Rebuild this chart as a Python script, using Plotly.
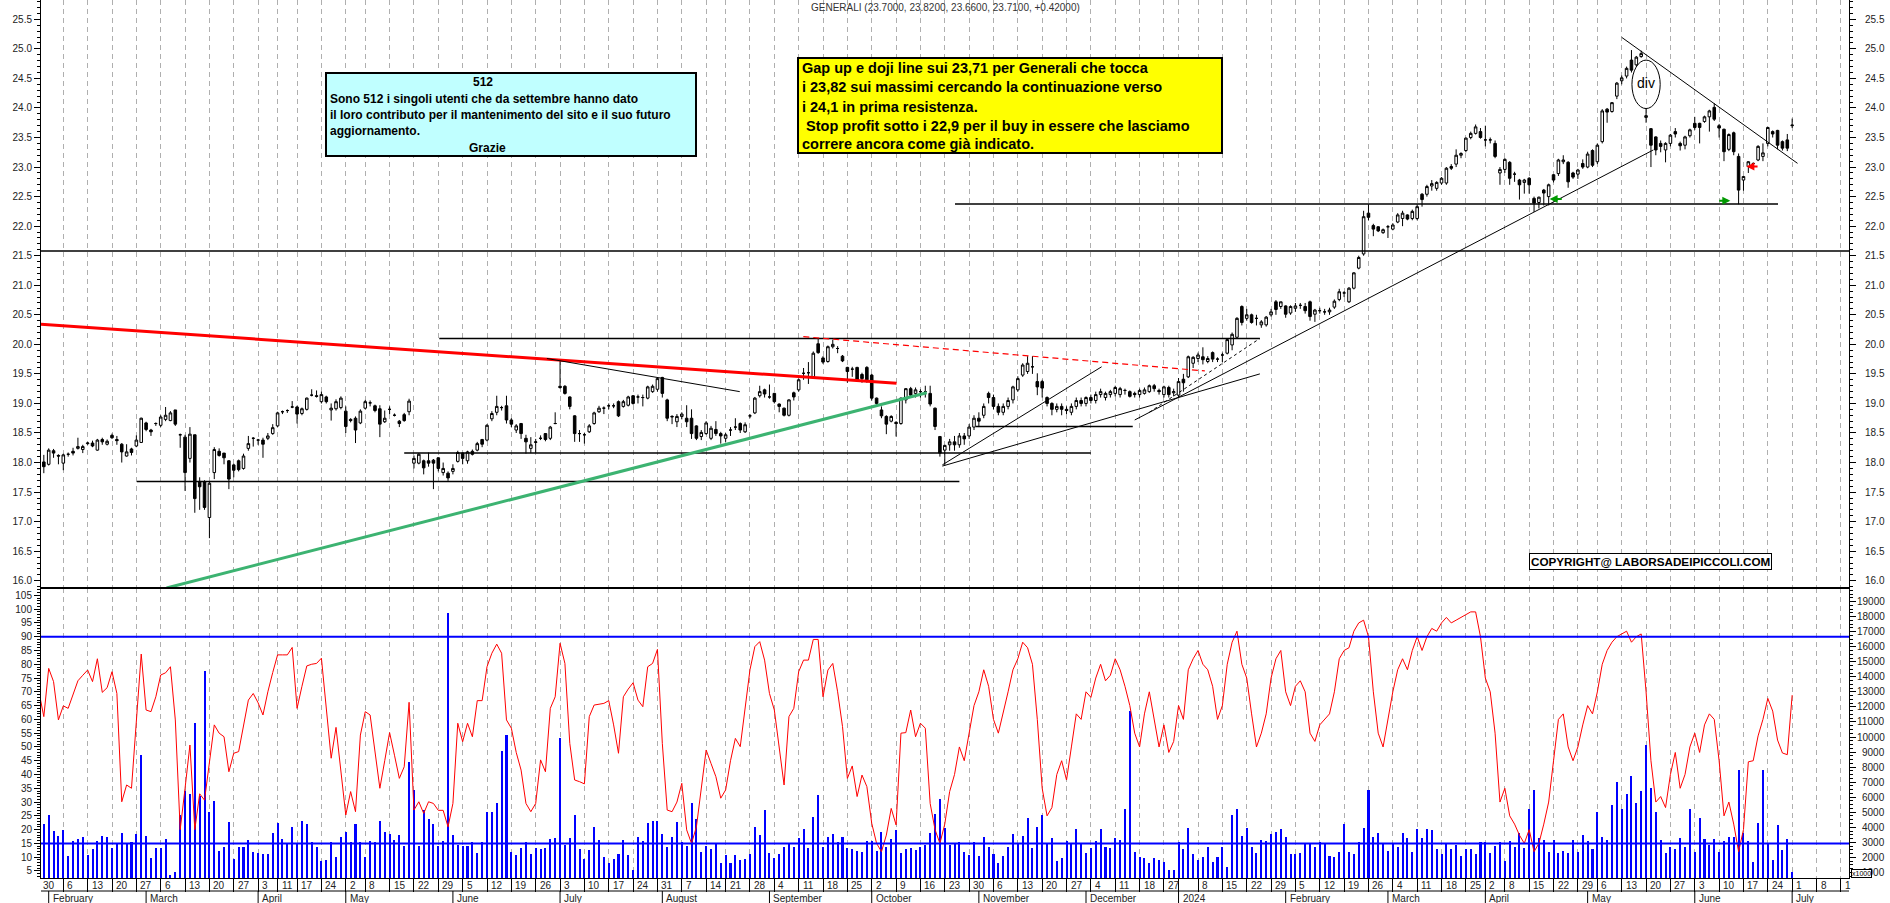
import pandas as pd
import plotly.graph_objects as go

# ---------------- calendar (Borsa Italiana trading days) ----------------
HOLIDAYS = ["2023-04-07", "2023-04-10", "2023-05-01", "2023-08-15", "2023-12-25",
            "2023-12-26", "2024-01-01", "2024-03-29", "2024-04-01", "2024-05-01"]
DAYS = [d for d in pd.bdate_range("2023-01-30", "2024-07-19")
        if d.strftime("%Y-%m-%d") not in HOLIDAYS]

# ---------------- price candles (open, high, low, close), from Jan 31 2023 ----------------
cand_q1_2023 = [
    (18.01, 18.13, 17.82, 17.93), (17.97, 18.24, 17.95, 18.21), (18.20, 18.23, 18.08, 18.16),
    (18.12, 18.14, 17.97, 18.11), (17.99, 18.15, 17.87, 18.13), (18.14, 18.17, 18.10, 18.14),
    (18.19, 18.25, 18.12, 18.16), (18.24, 18.42, 18.22, 18.27), (18.22, 18.30, 18.16, 18.27),
    (18.32, 18.35, 18.30, 18.33), (18.33, 18.37, 18.26, 18.28), (18.21, 18.40, 18.20, 18.38),
    (18.39, 18.42, 18.30, 18.35), (18.31, 18.39, 18.29, 18.36), (18.46, 18.49, 18.40, 18.42),
    (18.39, 18.45, 18.30, 18.37), (18.31, 18.33, 18.00, 18.18), (18.11, 18.31, 18.10, 18.18),
    (18.23, 18.25, 18.12, 18.17), (18.28, 18.46, 18.26, 18.38), (18.34, 18.76, 18.33, 18.75),
    (18.67, 18.69, 18.53, 18.56), (18.55, 18.57, 18.45, 18.52), (18.66, 18.68, 18.62, 18.66),
    (18.63, 18.80, 18.60, 18.77), (18.73, 18.94, 18.70, 18.80), (18.71, 18.87, 18.70, 18.84),
    (18.89, 18.89, 18.62, 18.65), (18.47, 18.49, 18.25, 18.47), (18.43, 18.47, 17.52, 17.83),
    (18.07, 18.60, 18.00, 18.48), (18.47, 18.47, 17.15, 17.39), (17.68, 17.75, 17.20, 17.59),
    (17.67, 17.70, 17.20, 17.24), (17.07, 17.68, 16.72, 17.65),
]
cand_q2_2023 = [
    (17.83, 18.26, 17.72, 18.22), (18.19, 18.24, 18.10, 18.12), (18.16, 18.16, 17.97, 18.08),
    (18.03, 18.04, 17.55, 17.72), (17.96, 17.98, 17.75, 17.87), (18.03, 18.05, 17.85, 17.88),
    (17.90, 18.15, 17.88, 18.11), (18.24, 18.45, 18.20, 18.32), (18.41, 18.43, 18.27, 18.41),
    (18.38, 18.40, 18.30, 18.38), (18.38, 18.42, 18.08, 18.31), (18.41, 18.50, 18.38, 18.45),
    (18.49, 18.65, 18.47, 18.59), (18.62, 18.86, 18.60, 18.84), (18.86, 18.88, 18.82, 18.86),
    (18.88, 18.90, 18.84, 18.88), (18.94, 19.04, 18.92, 18.94), (18.94, 18.96, 18.66, 18.82),
    (18.83, 18.93, 18.80, 18.91), (18.90, 19.10, 18.88, 19.09), (19.14, 19.24, 19.12, 19.14),
    (19.13, 19.22, 19.10, 19.12), (19.03, 19.20, 19.00, 19.15), (19.11, 19.13, 19.00, 19.03),
    (18.89, 19.00, 18.71, 18.92), (18.91, 19.07, 18.88, 19.03), (18.93, 19.12, 18.90, 19.09),
    (18.87, 18.95, 18.50, 18.61), (18.73, 18.75, 18.68, 18.71), (18.75, 18.78, 18.33, 18.55),
    (18.67, 18.90, 18.65, 18.87), (18.92, 19.06, 18.90, 19.03), (19.01, 19.05, 18.95, 19.01),
    (18.96, 18.98, 18.85, 18.88), (18.91, 18.97, 18.43, 18.65), (18.69, 18.88, 18.67, 18.75),
    (18.90, 18.95, 18.82, 18.90), (18.80, 18.83, 18.78, 18.80), (18.70, 18.72, 18.60, 18.66),
    (18.81, 18.84, 18.69, 18.71), (18.86, 19.08, 18.80, 19.04),
]
cand_jun_2023 = [
    (17.99, 18.12, 17.90, 18.07), (17.99, 18.16, 17.97, 18.14), (18.03, 18.05, 17.80, 17.91),
    (18.03, 18.17, 17.93, 17.99), (18.04, 18.06, 17.55, 17.99), (18.08, 18.09, 17.85, 17.90),
    (17.83, 18.00, 17.78, 17.90), (17.82, 17.85, 17.69, 17.74), (17.85, 17.97, 17.80, 17.90),
    (18.02, 18.20, 18.00, 18.17), (18.16, 18.17, 17.97, 18.07), (18.03, 18.20, 17.98, 18.18),
    (18.19, 18.22, 18.12, 18.14), (18.21, 18.35, 18.19, 18.32), (18.39, 18.40, 18.26, 18.31),
    (18.38, 18.65, 18.36, 18.63), (18.74, 18.87, 18.70, 18.83), (18.85, 19.13, 18.80, 18.95),
    (18.93, 18.96, 18.88, 18.93), (18.96, 19.13, 18.66, 18.72), (18.72, 18.75, 18.60, 18.65),
    (18.55, 18.65, 18.50, 18.62), (18.66, 18.67, 18.40, 18.49), (18.41, 18.47, 18.15, 18.35),
    (18.24, 18.43, 18.16, 18.30), (18.34, 18.40, 18.16, 18.35), (18.41, 18.46, 18.38, 18.41),
    (18.49, 18.50, 18.36, 18.39), (18.41, 18.62, 18.38, 18.60), (18.66, 18.85, 18.65, 18.66),
]
cand_q3_2023 = [
    (19.29, 19.73, 19.25, 19.27), (19.29, 19.31, 19.15, 19.17), (19.11, 19.12, 18.90, 18.95),
    (18.79, 18.80, 18.35, 18.49), (18.49, 18.55, 18.35, 18.49), (18.47, 18.50, 18.32, 18.47),
    (18.52, 18.65, 18.50, 18.62), (18.66, 18.86, 18.64, 18.84), (18.86, 18.96, 18.84, 18.92),
    (18.92, 18.95, 18.82, 18.92), (18.96, 19.00, 18.90, 18.96), (18.96, 19.00, 18.92, 18.96),
    (19.03, 19.05, 18.77, 18.79), (18.95, 19.06, 18.93, 19.03), (18.97, 19.13, 18.95, 19.11),
    (19.13, 19.14, 18.98, 19.00), (19.11, 19.15, 19.00, 19.11), (19.10, 19.15, 18.95, 19.10),
    (19.09, 19.30, 19.07, 19.28), (19.20, 19.32, 19.18, 19.29), (19.24, 19.44, 19.20, 19.42),
    (19.44, 19.45, 19.10, 19.17), (19.06, 19.08, 18.70, 18.75), (18.77, 18.80, 18.65, 18.78),
    (18.69, 18.82, 18.60, 18.78), (18.78, 18.85, 18.73, 18.82), (18.75, 18.97, 18.60, 18.69),
    (18.75, 18.90, 18.40, 18.49), (18.62, 18.63, 18.38, 18.41), (18.44, 18.55, 18.38, 18.51),
    (18.49, 18.70, 18.47, 18.67), (18.41, 18.62, 18.38, 18.58), (18.56, 18.70, 18.45, 18.49),
    (18.49, 18.52, 18.32, 18.45), (18.41, 18.50, 18.35, 18.47), (18.55, 18.60, 18.45, 18.55),
    (18.60, 18.75, 18.55, 18.60), (18.66, 18.68, 18.50, 18.55), (18.52, 18.68, 18.50, 18.64),
    (18.79, 18.82, 18.75, 18.79), (18.84, 19.11, 18.82, 19.09), (19.13, 19.30, 19.10, 19.20),
    (19.23, 19.25, 19.10, 19.16), (19.11, 19.32, 19.08, 19.11),
]
cand_sep_oct_2023 = [
    (19.17, 19.18, 19.00, 19.03), (18.99, 19.00, 18.85, 18.95), (18.92, 18.93, 18.78, 18.80),
    (18.80, 19.07, 18.78, 19.06), (19.18, 19.20, 19.05, 19.11), (19.23, 19.42, 19.20, 19.40),
    (19.51, 19.60, 19.40, 19.51), (19.52, 19.70, 19.33, 19.52), (19.45, 19.88, 19.43, 19.85),
    (20.01, 20.10, 19.84, 19.86), (19.77, 19.80, 19.67, 19.70), (19.71, 19.98, 19.69, 19.96),
    (19.96, 20.08, 19.93, 20.00), (19.93, 19.97, 19.85, 19.93), (19.80, 19.82, 19.70, 19.72),
    (19.61, 19.62, 19.35, 19.54), (19.58, 19.62, 19.45, 19.58), (19.61, 19.62, 19.38, 19.40),
    (19.49, 19.52, 19.35, 19.42), (19.61, 19.63, 19.35, 19.40), (19.48, 19.50, 19.05, 19.09),
    (19.09, 19.10, 18.94, 19.00), (18.89, 18.95, 18.75, 18.79), (18.78, 18.80, 18.48, 18.65),
    (18.70, 18.80, 18.68, 18.78), (18.68, 18.70, 18.44, 18.66), (18.66, 19.10, 18.64, 19.09),
    (19.06, 19.26, 19.00, 19.25), (19.25, 19.28, 19.10, 19.14), (19.17, 19.27, 19.10, 19.23),
    (19.20, 19.24, 19.10, 19.20), (19.20, 19.30, 19.10, 19.20), (19.17, 19.30, 18.95, 18.99),
    (18.92, 18.93, 18.55, 18.61), (18.44, 18.45, 18.10, 18.16), (18.21, 18.30, 17.95, 18.29),
    (18.30, 18.40, 18.20, 18.35),
]
cand_q4_2023 = [
    (18.35, 18.45, 18.20, 18.30), (18.30, 18.50, 18.25, 18.45), (18.45, 18.50, 18.30, 18.40),
    (18.45, 18.65, 18.40, 18.60), (18.60, 18.80, 18.55, 18.75), (18.75, 18.85, 18.60, 18.70),
    (18.80, 19.00, 18.75, 18.95), (19.17, 19.20, 19.00, 19.10), (19.10, 19.15, 18.90, 18.95),
    (18.95, 19.00, 18.80, 18.85), (18.85, 19.00, 18.80, 18.95), (18.95, 19.10, 18.90, 19.05),
    (19.06, 19.30, 19.00, 19.28), (19.23, 19.46, 19.20, 19.42), (19.48, 19.68, 19.45, 19.65),
    (19.54, 19.80, 19.50, 19.68), (19.62, 19.80, 19.50, 19.62), (19.37, 19.51, 19.14, 19.28),
    (19.37, 19.40, 19.10, 19.26), (19.10, 19.12, 18.95, 19.00), (19.00, 19.02, 18.80, 18.90),
    (18.90, 19.00, 18.85, 18.95), (18.95, 19.00, 18.80, 18.90), (18.90, 18.95, 18.82, 18.88),
    (18.85, 19.00, 18.80, 18.95), (18.95, 19.10, 18.90, 19.05), (19.05, 19.10, 18.95, 19.00),
    (19.00, 19.12, 18.95, 19.10), (19.10, 19.15, 19.00, 19.05), (19.05, 19.20, 19.00, 19.15),
    (19.15, 19.25, 19.10, 19.20), (19.10, 19.20, 19.05, 19.17), (19.15, 19.23, 19.10, 19.20),
    (19.17, 19.30, 19.12, 19.27), (19.15, 19.28, 19.10, 19.25), (19.22, 19.25, 19.15, 19.22),
    (19.20, 19.22, 19.10, 19.12), (19.17, 19.20, 19.10, 19.15), (19.15, 19.25, 19.10, 19.22),
    (19.17, 19.27, 19.15, 19.23), (19.20, 19.32, 19.18, 19.30), (19.30, 19.33, 19.20, 19.25),
    (19.22, 19.25, 19.15, 19.20), (19.15, 19.30, 19.10, 19.28), (19.27, 19.30, 19.10, 19.15),
    (19.18, 19.25, 19.12, 19.20),
]
cand_jan_feb_2024 = [
    (19.14, 19.43, 19.10, 19.37), (19.41, 19.50, 19.20, 19.35), (19.45, 19.81, 19.43, 19.79),
    (19.68, 19.80, 19.60, 19.78), (19.76, 19.86, 19.70, 19.82), (19.79, 19.95, 19.66, 19.74),
    (19.71, 19.80, 19.68, 19.76), (19.86, 19.88, 19.70, 19.75), (19.75, 19.78, 19.70, 19.75),
    (19.82, 19.86, 19.70, 19.82), (19.85, 20.10, 19.83, 20.08), (19.99, 20.20, 19.90, 20.17),
    (20.12, 20.46, 20.10, 20.44), (20.64, 20.66, 20.32, 20.37), (20.44, 20.60, 20.40, 20.50),
    (20.50, 20.52, 20.35, 20.37), (20.44, 20.50, 20.32, 20.44), (20.33, 20.41, 20.28, 20.38),
    (20.33, 20.48, 20.30, 20.46), (20.50, 20.60, 20.47, 20.55), (20.72, 20.75, 20.50, 20.59),
    (20.64, 20.72, 20.60, 20.72), (20.65, 20.66, 20.45, 20.51), (20.53, 20.66, 20.50, 20.64),
    (20.61, 20.70, 20.55, 20.65), (20.66, 20.70, 20.60, 20.66), (20.64, 20.70, 20.52, 20.57),
    (20.72, 20.74, 20.40, 20.47), (20.51, 20.60, 20.38, 20.58), (20.57, 20.62, 20.52, 20.57),
    (20.55, 20.60, 20.50, 20.55), (20.55, 20.62, 20.50, 20.58), (20.63, 20.76, 20.60, 20.73),
    (20.76, 20.94, 20.73, 20.89), (20.87, 20.90, 20.80, 20.87), (20.72, 20.97, 20.70, 20.95),
    (20.95, 21.22, 20.93, 21.21), (21.29, 21.50, 21.27, 21.47), (21.53, 22.26, 21.50, 22.16),
    (22.22, 22.37, 22.10, 22.15), (22.01, 22.04, 21.83, 21.95), (21.99, 22.00, 21.90, 21.92),
    (21.89, 21.96, 21.87, 21.94), (21.99, 22.02, 21.80, 21.99), (21.95, 22.05, 21.93, 22.02),
    (22.07, 22.22, 22.05, 22.19),
]
cand_mar_may_2024 = [
    (22.13, 22.26, 22.00, 22.22), (22.19, 22.20, 22.10, 22.12), (22.13, 22.28, 22.10, 22.25),
    (22.13, 22.37, 22.10, 22.33), (22.54, 22.56, 22.33, 22.45), (22.54, 22.70, 22.50, 22.67),
    (22.68, 22.78, 22.60, 22.72), (22.64, 22.76, 22.60, 22.74), (22.73, 22.83, 22.70, 22.81),
    (22.73, 23.00, 22.70, 22.98), (23.01, 23.05, 22.95, 22.98), (23.05, 23.30, 23.00, 23.20),
    (23.20, 23.25, 23.15, 23.23), (23.28, 23.50, 23.25, 23.49), (23.50, 23.60, 23.47, 23.57),
    (23.57, 23.72, 23.55, 23.68), (23.60, 23.66, 23.48, 23.50), (23.46, 23.70, 23.35, 23.46),
    (23.46, 23.50, 23.40, 23.46), (23.40, 23.45, 23.15, 23.18), (22.90, 23.00, 22.70, 22.96),
    (22.96, 23.15, 22.90, 23.13), (23.08, 23.10, 22.70, 22.81), (22.88, 22.92, 22.75, 22.88),
    (22.78, 22.80, 22.45, 22.70), (22.74, 22.80, 22.55, 22.78), (22.81, 22.83, 22.55, 22.70),
    (22.47, 22.50, 22.24, 22.39), (22.40, 22.50, 22.30, 22.49), (22.61, 22.63, 22.35, 22.56),
    (22.50, 22.72, 22.35, 22.70), (22.87, 22.88, 22.74, 22.78), (22.89, 23.14, 22.85, 23.12),
    (23.09, 23.20, 23.05, 23.12), (23.08, 23.10, 22.65, 22.75), (22.90, 22.92, 22.80, 22.83),
    (22.88, 22.97, 22.80, 22.95), (23.06, 23.13, 22.97, 23.00), (23.00, 23.26, 22.98, 23.22),
    (23.28, 23.30, 23.00, 23.03), (23.09, 23.40, 23.05, 23.37),
]
cand_may_jul_2024 = [
    (23.43, 23.98, 23.40, 23.95), (23.98, 24.00, 23.75, 23.93), (23.94, 24.10, 23.92, 24.09),
    (24.20, 24.44, 24.15, 24.42), (24.46, 24.55, 24.40, 24.51), (24.54, 24.70, 24.50, 24.67),
    (24.81, 24.98, 24.60, 24.64), (24.73, 24.88, 24.70, 24.86), (24.87, 24.97, 24.85, 24.92),
    (23.84, 24.00, 23.75, 23.87), (23.65, 23.66, 23.00, 23.37), (23.51, 23.52, 23.20, 23.29),
    (23.40, 23.45, 23.25, 23.35), (23.29, 23.42, 23.08, 23.40), (23.40, 23.56, 23.35, 23.54),
    (23.60, 23.66, 23.50, 23.56), (23.40, 23.43, 23.28, 23.36), (23.37, 23.53, 23.30, 23.51),
    (23.53, 23.65, 23.50, 23.63), (23.74, 23.85, 23.63, 23.67), (23.74, 23.75, 23.40, 23.67),
    (23.77, 23.87, 23.75, 23.85), (23.85, 23.97, 23.60, 23.95), (24.01, 24.08, 23.78, 23.81),
    (23.70, 23.73, 23.50, 23.66), (23.64, 23.65, 23.10, 23.26), (23.30, 23.57, 23.27, 23.55),
    (23.58, 23.60, 23.20, 23.26), (23.18, 23.23, 22.37, 22.61), (22.78, 22.85, 22.60, 22.84),
    (23.01, 23.10, 22.90, 23.09), (23.06, 23.08, 23.00, 23.06), (23.12, 23.37, 23.10, 23.35),
    (23.18, 23.40, 23.10, 23.24), (23.40, 23.68, 23.35, 23.67), (23.60, 23.62, 23.50, 23.56),
    (23.62, 23.63, 23.30, 23.37), (23.43, 23.45, 23.28, 23.32), (23.46, 23.56, 23.27, 23.32),
    (23.70, 23.82, 23.66, 23.71),
]
CANDLE_FIRST_DAY = 1

# ---------------- oscillator (left lower axis), from Jan 30 2023 ----------------
osc_a = [70, 61, 78.5, 73.7, 59.8, 64.9, 64, 69, 74, 76, 77.9, 73.7, 82, 69.8, 71.5, 77.3, 69.4, 30.1, 36.2, 35,
         59.8, 83.7, 63.4, 62.8, 68.2, 76.1, 76.9, 79.1, 59.8, 20, 35, 50.7, 20, 33, 30.7, 45, 58, 55, 53.7, 41,
         47.7, 48.3, 58, 67, 69.4, 66, 61.6, 70, 77, 83.4]
osc_b = [83.4, 83.4, 86.1, 64, 72, 79.4, 80, 80.3, 82.2, 65, 45.9, 57.1, 40, 25.3, 33.8, 26.5, 54.3, 62.8, 61.6, 48,
         35, 45, 55.2, 47, 38.6, 42.8, 66.2, 27.1, 30.1, 25.9, 30.1, 29.5, 27, 27, 21, 29.5, 58.6, 51.9, 58.6, 53.7,
         66.8, 66.8, 79.1, 84, 87.3, 84, 59.8, 56.8, 48, 41.6]
osc_c = [29.5, 26.5, 29.5, 45.3, 41, 64, 68.2, 87.6, 80.3, 51.3, 38, 37.4, 36.6, 61, 65.2, 65.5, 65.8, 66.8, 58, 47.7,
         68.2, 71, 73.3, 67, 64.6, 79.1, 80.3, 85.4, 51.3, 27.1, 26.5, 30, 36.8, 19.9, 15, 21, 35, 48.9, 44, 39.2,
         31.4, 34.4, 45, 53.1, 50.1, 65, 78, 86.4, 88.2, 81.5]
osc_d = [69.4, 63.4, 50, 36.2, 61, 64, 77.3, 81.5, 81.5, 89, 89, 68.2, 77.9, 80.3, 70, 57.4, 38.6, 43.1, 32, 39.8,
         35.6, 22.3, 15, 12, 18, 27.7, 21.7, 55, 55.2, 63.4, 53.7, 58.6, 56.8, 29.5, 20, 15, 22, 33.8, 40, 50,
         45, 55, 65, 70, 78, 72, 60, 55, 62, 70]
osc_e = [78, 82, 88, 86, 80, 60, 35, 25, 28, 40, 45, 38, 50, 62, 60, 70, 68, 75, 80, 74,
         76, 82, 78, 72, 65, 55, 50, 62, 70, 60, 50, 58, 48, 52, 65, 60, 78, 82, 85, 80,
         78, 72, 60, 65, 80, 88, 92, 80, 75, 62]
osc_f = [50, 55, 62, 75, 82, 85, 70, 65, 72, 74, 70, 55, 52, 58, 60, 62, 70, 82, 85, 86,
         92, 95, 96, 90, 70, 55, 50, 60, 70, 78, 82, 78, 85, 90, 85, 90, 93, 92, 95, 97,
         95, 96, 97, 98, 99, 99, 90, 75, 70, 55]
osc_g = [30, 35, 25, 22, 18, 15, 20, 12, 15, 22, 30, 45, 60, 62, 50, 45, 50, 58, 65, 62,
         70, 80, 85, 88, 90, 91, 92, 88, 90, 91, 70, 45, 30, 32, 28, 40, 48, 35, 40, 50,
         55, 48, 58, 62, 60, 45, 25, 30, 22, 12, 20, 44.6, 45, 54, 60, 67.6, 63, 52.5, 47.8, 47.2,
         68.8]
OSC_FIRST_DAY = 0

# ---------------- volume (x1000 shares, right lower axis), from Jan 31 2023 ----------------
vol_a = [4210, 4815, 3770, 3440, 3825, 2083, 3110, 3220, 3367, 2157, 2560, 3110, 3440, 3330, 2597, 2927, 3587, 2927,
         3000, 3550, 8811, 3440, 1937, 2597, 2597, 3220, 819, 1000, 4815, 6409, 6208, 10919, 6080, 14383, 5035,
         5750, 2450, 2707, 4320, 1863, 2670, 2707, 3147, 2340, 2267, 2230, 2230, 3605, 4300, 3220]
vol_b = [2890, 4045, 2890, 4430, 4210, 3000, 2707, 1772, 1827, 3037, 1992, 3367, 3660, 3000, 4210, 3000, 1992, 3110,
         3037, 4393, 3715, 3550, 3147, 3477, 2762, 8371, 6483, 2762, 5126, 4521, 4210, 2762, 3110, 18232, 3477,
         2817, 2780, 2780, 3000, 2267, 3000, 5035, 5035, 5640, 9086, 10130, 2340, 2157, 2597, 3037]
vol_c = [2230, 2597, 2560, 2597, 3220, 3257, 9910, 2817, 3257, 4815, 2560, 1883, 2487, 3990, 3147, 1992, 1607, 1863,
         2230, 3147, 2157, 1167, 3330, 3110, 4265, 4430, 4393, 3532, 2707, 3330, 4380, 3037, 2762, 5640, 4521,
         2377, 2762, 2542, 2872, 1644, 2138, 1644, 2157, 1827, 1863, 2230, 4045, 3477, 5126, 2267]
vol_d = [1937, 2230, 2670, 2980, 2670, 3257, 3880, 2597, 4705, 6153, 2707, 3367, 3550, 3000, 3367, 2597, 2560, 2450,
         2377, 3110, 3110, 2450, 3715, 2707, 3220, 3825, 2267, 2560, 2597, 2487, 2707, 2817, 3605, 4888, 5860,
         3935, 2817, 2980, 3037, 2340, 2157, 3000, 2083, 3330, 2707, 2230, 1644, 2083, 2670, 3532]
vol_e = [2890, 3422, 4600, 2597, 4045, 4800, 2872, 3257, 1772, 1937, 3092, 2927, 3880, 2890, 2267, 2597, 3110, 3880,
         2707, 2597, 3257, 3147, 5200, 11700, 2377, 2047, 1937, 1607, 1937, 1827, 1717, 1167, 1167, 3037, 2560,
         3935, 2230, 1827, 1992, 2670, 1662, 1992, 2670, 1387, 4800, 5200, 3422, 3935, 2670, 2304]
vol_f = [3147, 3110, 3550, 3660, 3862, 3367, 2230, 2193, 2267, 2890, 2927, 2707, 3000, 2927, 2083, 2047, 2340, 4190,
         2377, 2193, 3037, 3972, 6500, 3367, 3605, 2980, 2413, 2890, 2707, 3605, 3257, 2340, 3862, 3257, 3880,
         3825, 2560, 2193, 2890, 2560, 2817, 2083, 2560, 2560, 2230, 3037, 3000, 2267, 2762, 3037]
vol_g = [1772, 3110, 2707, 3605, 2597, 5200, 6500, 3257, 3147, 2377, 3147, 2267, 2450, 2304, 3147, 2377, 3477, 3110,
         2560, 5000, 3367, 3147, 5500, 7000, 5200, 6200, 7400, 5600, 6400, 9500, 6600, 5000, 3147, 2267, 2670,
         2560, 3257, 2670, 5200, 2340, 4600, 3202, 2817, 3202, 2340, 3110, 3367, 3330, 7800, 3605, 3110, 1717,
         4265, 7803, 2980, 1827, 4155, 2487, 3220, 1039]
VOL_FIRST_DAY = 1

# ---------------- drawn studies (day index, price) ----------------
TRENDLINES = [  # x0, p0, x1, p1, color, width, dash
    (0.42, 21.58, 371.67, 21.58, "black", 1.5, "solid"),
    (188.1, 22.375, 357.1, 22.375, "black", 1.5, "solid"),
    (82.2, 20.10, 250.7, 20.10, "black", 1.5, "solid"),
    (75.0, 18.16, 216.0, 18.16, "black", 1.5, "solid"),
    (20.1, 17.68, 189.0, 17.68, "black", 1.5, "solid"),
    (192.4, 18.61, 224.6, 18.61, "black", 1.5, "solid"),
    (0.42, 20.34, 176.1, 19.34, "#FF0000", 3, "solid"),
    (156.95, 20.13, 239.4, 19.55, "#FF0000", 1.2, "6px,4px"),
    (26.2, 15.877, 182.3, 19.18, "#3CB371", 3, "solid"),
    (104.3, 19.76, 143.9, 19.20, "black", 1, "solid"),
    (225.0, 18.72, 331.5, 23.29, "black", 1, "solid"),
    (325.0, 25.195, 361.1, 23.063, "black", 1, "solid"),
    (228.0, 18.85, 250.7, 20.10, "black", 1, "dot"),
    (185.5, 17.94, 250.7, 19.50, "black", 1, "solid"),
    (185.5, 17.96, 218.2, 19.62, "black", 1, "solid"),
]
ARROWS = [  # head x, head p, tail x, tail p, color
    (310.2, 22.46, 313.0, 22.46, "#009900"),
    (347.3, 22.43, 344.7, 22.43, "#009900"),
    (350.6, 23.01, 353.2, 23.01, "#FF0000"),
]
DIV_MARK = dict(x0=327.1, x1=332.9, p0=23.99, p1=24.81, label="div")

PRICE_TICKS = [16.0 + 0.5 * k for k in range(20)]
VOL_TICKS = list(range(1000, 20000, 1000))
OSC_TICKS = list(range(5, 110, 5))

TITLE = "GENERALI (23.7000, 23.8200, 23.6600, 23.7100, +0.42000)"
CYAN_LINES = ["512", "Sono 512 i singoli utenti che da settembre hanno dato",
              "il loro contributo per il mantenimento del sito e il suo futuro",
              "aggiornamento.", "Grazie"]
YELLOW_LINES = ["Gap up e doji line sui 23,71 per Generali che tocca",
                "i 23,82 sui massimi cercando la continuazione verso",
                "i 24,1 in prima resistenza.",
                " Stop profit sotto i 22,9 per il buy in essere che lasciamo",
                "correre ancora come già indicato."]
COPYRIGHT = "COPYRIGHT@ LABORSADEIPICCOLI.COM"

# ---------------- build ----------------
W, H = 1890, 903
ML, MR, MT, MB = 41, 41, 0, 25
PW, PH = W - ML - MR, H - MT - MB
SPLIT = 1 - 588 / PH
X_RANGE = [0.42, 371.67]


def px2x(px):
    return (px - ML) / PW


def py2y(py):
    return 1 - (py - MT) / PH


candles = (cand_q1_2023 + cand_q2_2023 + cand_jun_2023 + cand_q3_2023 + cand_sep_oct_2023 +
           cand_q4_2023 + cand_jan_feb_2024 + cand_mar_may_2024 + cand_may_jul_2024)
osc = osc_a + osc_b + osc_c + osc_d + osc_e + osc_f + osc_g
vol = vol_a + vol_b + vol_c + vol_d + vol_e + vol_f + vol_g

xc = list(range(CANDLE_FIRST_DAY, CANDLE_FIRST_DAY + len(candles)))
xo = list(range(OSC_FIRST_DAY, OSC_FIRST_DAY + len(osc)))
xv = list(range(VOL_FIRST_DAY, VOL_FIRST_DAY + len(vol)))

week_ticks, day_text = [], []
prev = None
for i, d in enumerate(DAYS):
    wk = tuple(d.isocalendar())[:2]
    if wk != prev:
        week_ticks.append(i)
        day_text.append(str(d.day))
        prev = wk
month_pos, month_text = [], []
prevm = (DAYS[0].year, DAYS[0].month)
for i, d in enumerate(DAYS):
    if (d.year, d.month) != prevm:
        month_pos.append(i)
        month_text.append(str(d.year) if d.month == 1 else d.strftime("%B"))
        prevm = (d.year, d.month)

fig = go.Figure()
fig.add_trace(go.Candlestick(
    x=xc, open=[c[0] for c in candles], high=[c[1] for c in candles],
    low=[c[2] for c in candles], close=[c[3] for c in candles],
    increasing=dict(line=dict(color="black", width=1), fillcolor="white"),
    decreasing=dict(line=dict(color="black", width=1), fillcolor="black"),
    whiskerwidth=0, xaxis="x", yaxis="y", hoverinfo="skip", showlegend=False))
fig.add_trace(go.Scatter(x=[10], y=[20], xaxis="x", yaxis="y4", mode="markers",
                         marker=dict(opacity=0), hoverinfo="skip", showlegend=False))
fig.add_trace(go.Bar(x=xv, y=vol, width=0.42, marker=dict(color="#0000FF", line=dict(width=0)),
                     xaxis="x2", yaxis="y2", hoverinfo="skip", showlegend=False))
fig.add_trace(go.Scatter(x=xo, y=osc, mode="lines", line=dict(color="#FF0000", width=1),
                         xaxis="x2", yaxis="y3", hoverinfo="skip", showlegend=False))

tickfont = dict(family="Liberation Sans, Arial, sans-serif", size=10, color="#222222")
xcommon = dict(range=X_RANGE, tickmode="array", tickvals=week_ticks, showticklabels=False,
               showgrid=True, gridcolor="#AFAFAF", griddash="5px,4px", gridwidth=1, zeroline=False,
               fixedrange=True)
ycommon = dict(showgrid=False, zeroline=False, showline=True, linecolor="black", linewidth=1,
               ticks="outside", ticklen=6, tickcolor="black", tickfont=tickfont, fixedrange=True)

fig.update_layout(
    width=W, height=H, margin=dict(l=ML, r=MR, t=MT, b=MB, autoexpand=False),
    paper_bgcolor="white", plot_bgcolor="white", showlegend=False, boxgap=0.25, bargap=0,
    xaxis=dict(domain=[0, 1], anchor="y", ticks="", rangeslider=dict(visible=False), **xcommon),
    xaxis2=dict(domain=[0, 1], anchor="y2", ticks="outside", ticklen=13, tickcolor="black",
                showline=True, linecolor="black", linewidth=1, **xcommon),
    yaxis=dict(domain=[SPLIT, 1], anchor="x", side="left", range=[15.877, 25.827], tickmode="array",
               tickvals=PRICE_TICKS, tickformat=".1f",
               minor=dict(ticks="outside", ticklen=3, dtick=0.1, tick0=0, tickcolor="black"), **ycommon),
    yaxis4=dict(overlaying="y", anchor="x", side="right", range=[15.877, 25.827], tickmode="array",
                tickvals=PRICE_TICKS, showticklabels=False,
                minor=dict(ticks="outside", ticklen=3, dtick=0.1, tick0=0, tickcolor="black"), **ycommon),
    yaxis2=dict(domain=[0, SPLIT], anchor="x2", side="right", range=[626, 19908], tickmode="array",
                tickvals=VOL_TICKS, showticklabels=False,
                minor=dict(ticks="outside", ticklen=3, dtick=250, tick0=0, tickcolor="black"), **ycommon),
    yaxis3=dict(overlaying="y2", anchor="x2", side="left", range=[2.445, 107.67], tickmode="array",
                tickvals=OSC_TICKS,
                minor=dict(ticks="outside", ticklen=3, dtick=1, tick0=0, tickcolor="black"), **ycommon),
)

shapes = []
for x0, p0, x1, p1, col, w, dash in TRENDLINES:
    shapes.append(dict(type="line", xref="x", yref="y", x0=x0, y0=p0, x1=x1, y1=p1,
                       line=dict(color=col, width=w, dash=dash)))
shapes.append(dict(type="circle", xref="x", yref="y", x0=DIV_MARK["x0"], x1=DIV_MARK["x1"],
                   y0=DIV_MARK["p0"], y1=DIV_MARK["p1"], line=dict(color="black", width=1)))
for lvl in (90, 15):
    shapes.append(dict(type="line", xref="paper", yref="y3", x0=0, x1=1, y0=lvl, y1=lvl,
                       line=dict(color="#0000FF", width=2)))
shapes.append(dict(type="line", xref="paper", yref="paper", x0=0, x1=1, y0=SPLIT, y1=SPLIT,
                   line=dict(color="black", width=2)))
shapes.append(dict(type="line", xref="paper", yref="paper", x0=0, x1=1, y0=py2y(891), y1=py2y(891),
                   line=dict(color="black", width=1)))
for m in month_pos:
    shapes.append(dict(type="line", xref="x2", yref="paper", x0=m, x1=m, y0=py2y(891), y1=py2y(903),
                       line=dict(color="black", width=1)))
shapes.append(dict(type="rect", xref="paper", yref="paper", x0=px2x(326), x1=px2x(696),
                   y0=py2y(156), y1=py2y(73), fillcolor="#C0FFFF", line=dict(color="black", width=2),
                   layer="above"))
shapes.append(dict(type="rect", xref="paper", yref="paper", x0=px2x(798), x1=px2x(1222),
                   y0=py2y(153), y1=py2y(58), fillcolor="#FFFF00", line=dict(color="black", width=2),
                   layer="above"))
fig.update_layout(shapes=shapes)

ann = []
ann.append(dict(text=TITLE, xref="paper", yref="paper", x=px2x(945), y=py2y(8), showarrow=False,
                font=dict(family="Liberation Sans, Arial", size=10, color="#333333"),
                xanchor="center", yanchor="middle"))
boxfont = "Liberation Sans, Arial, sans-serif"
cy_pos = [(483, 82, "center"), (328, 99, "left"), (328, 115, "left"), (328, 131, "left"), (487, 148, "center")]
for t, (px, py, anc) in zip(CYAN_LINES, cy_pos):
    ann.append(dict(text="<b>%s</b>" % t, xref="paper", yref="paper", x=px2x(px), y=py2y(py),
                    showarrow=False, xanchor=anc, yanchor="middle",
                    font=dict(family=boxfont, size=12, color="black")))
ye_y = [68, 87, 107, 126, 144]
for t, py in zip(YELLOW_LINES, ye_y):
    ann.append(dict(text="<b>%s</b>" % t, xref="paper", yref="paper", x=px2x(800), y=py2y(py),
                    showarrow=False, xanchor="left", yanchor="middle",
                    font=dict(family=boxfont, size=14.5, color="black")))
ann.append(dict(text="<b>%s</b>" % COPYRIGHT, xref="paper", yref="paper", x=px2x(1650), y=py2y(561),
                showarrow=False, xanchor="center", yanchor="middle", bgcolor="white",
                bordercolor="black", borderwidth=1, borderpad=1,
                font=dict(family="Liberation Sans, Arial", size=11.7, color="black")))
ann.append(dict(text=DIV_MARK["label"], xref="x", yref="y", x=(DIV_MARK["x0"] + DIV_MARK["x1"]) / 2,
                y=24.43, showarrow=False, font=dict(family="Liberation Sans, Arial", size=14, color="black")))
for hx, hp, tx, tp, col in ARROWS:
    ann.append(dict(text="", xref="x", yref="y", x=hx, y=hp, axref="x", ayref="y", ax=tx, ay=tp,
                    showarrow=True, arrowhead=2, arrowsize=0.8, arrowwidth=2, arrowcolor=col))
for v in PRICE_TICKS:
    ann.append(dict(text="%.1f" % v, xref="paper", yref="y", x=px2x(1887), y=v, xanchor="right",
                    yanchor="middle", showarrow=False, font=tickfont))
for v in VOL_TICKS:
    ann.append(dict(text=str(v), xref="paper", yref="y2", x=px2x(1887), y=v, xanchor="right",
                    yanchor="middle", showarrow=False, font=tickfont))
ann.append(dict(text="x1000", xref="paper", yref="paper", x=px2x(1851), y=py2y(873), xanchor="left",
                yanchor="middle", showarrow=False, bgcolor="white", bordercolor="black", borderwidth=1,
                borderpad=0, font=dict(family="Liberation Sans, Arial", size=7, color="black")))
for i, t in zip(week_ticks, day_text):
    d = DAYS[i]
    if d.month == 1 and d.day <= 3 and d.year == 2024:
        continue
    if i > X_RANGE[1] - 3:
        t = t[:1]
    xi = max(i, X_RANGE[0])
    ann.append(dict(text=t, xref="x2", yref="paper", x=xi, y=py2y(885), xanchor="left", yanchor="middle",
                    xshift=2 if i >= X_RANGE[0] else 0, showarrow=False, font=tickfont))
for m, t in zip(month_pos, month_text):
    ann.append(dict(text=t, xref="x2", yref="paper", x=m, y=py2y(898), xanchor="left", yanchor="middle",
                    xshift=2, showarrow=False, font=tickfont))
fig.update_layout(annotations=ann)

fig.write_html("out.html", config={"displayModeBar": False},
               post_script="document.body.style.margin='0px';document.body.style.overflow='hidden';")
